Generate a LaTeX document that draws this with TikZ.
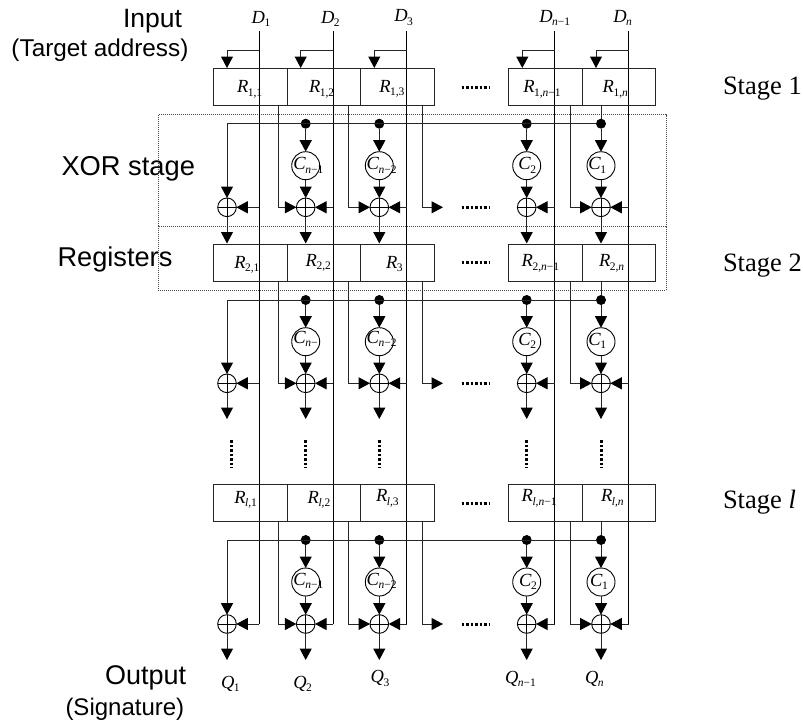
\documentclass[tikz,border=0pt]{standalone}
\usepackage{fontspec}
\setmainfont{Liberation Serif}
\newfontfamily\arialf{Liberation Sans}
\usetikzlibrary{arrows.meta,calc}
\newcommand{\subx}[1]{\raisebox{-3.6pt}{\fontsize{11.5}{11.5}\selectfont #1}}
\newcommand{\lbl}[2]{\fontsize{18.5}{18.5}\selectfont\textit{#1}\kern-0.5pt\subx{#2}}
\newcommand{\itn}{\textit{n}}
\newcommand{\itl}{\textit{l}}
\tikzset{
  wire/.style={line width=1pt,draw=black!85},
  dwire/.style={line width=1pt,draw=black},
  arr/.style={wire,-{Triangle[length=11.5pt,width=12pt,color=black,fill=black]}},
  regbox/.style={draw=black!85,line width=1pt,anchor=north west,minimum width=73.8pt,minimum height=37pt,inner sep=0pt,outer sep=0pt},
  cnode/.style={circle,draw=black,line width=0.9pt,minimum size=28pt,inner sep=0pt,outer sep=0pt},
  xornode/.style={circle,draw=black,line width=0.9pt,minimum size=18.6pt,inner sep=0pt,outer sep=0pt,
     path picture={\draw[line width=0.9pt] (path picture bounding box.north) -- (path picture bounding box.south)
                   (path picture bounding box.west) -- (path picture bounding box.east);}},
  busdot/.style={circle,fill=black,minimum size=10pt,inner sep=0pt,outer sep=0pt},
  txt/.style={anchor=base west,inner sep=0pt,outer sep=0pt},
  sans/.style={txt,font=\arialf},
  hdots/.style={line width=3pt,dash pattern=on 2.6pt off 1.9pt},
  dotbox/.style={line width=0.7pt,draw=black!70,dash pattern=on 1pt off 1pt},
}
\begin{document}
\begin{tikzpicture}[x=1pt,y=-1pt]
\useasboundingbox (0,0) rectangle (803,723);
\fill[white] (0,0) rectangle (803,723);
% dotted frames
\draw[dotbox] (158.3,114.7) rectangle (666,226);
\draw[dotbox] (158.3,226) rectangle (666,290.3);
% data lines
\foreach \c/\dx in {1/259.3,2/333.3,3/406.7,4/554.7,5/628.7}{
  \coordinate (Dtop\c) at (\dx,31);
  \coordinate (Dbot\c) at (\dx,624);
  \draw[dwire] (Dtop\c) -- (Dbot\c);
}
% stages
\foreach \s/\topy/\cy/\xy/\endy/\busy in {1/68.5/165.7/207.3/243.5/123.7,2/244/341.7/383.3/419/300,3/484.7/582/624/660/540}{
  \foreach \c/\lx in {1/213.3,2/287.1,3/360.9,4/508.3,5/582.1}{
    \node[regbox] (R\s-\c) at (\lx,\topy) {};
  }
  \foreach \c/\cx in {1/227,2/305.7,3/379.3,4/526.7,5/601}{
    \node[xornode] (X\s-\c) at (\cx,\xy) {};
    \draw[arr] (X\s-\c.south) -- (\cx,\endy);
    \draw[arr] (Dtop\c |- X\s-\c) -- (X\s-\c.east);
  }
  \foreach \c/\cx in {2/305.7,3/379.3,4/526.7,5/601}{
    \node[busdot] (B\s-\c) at (\cx,\busy) {};
    \node[cnode] (C\s-\c) at (\cx,\cy) {};
    \draw[arr] (B\s-\c) -- (C\s-\c.north);
    \draw[arr] (C\s-\c.south) -- (X\s-\c.north);
  }
  \draw[wire] (X\s-1 |- B\s-2) -- (B\s-5);
  \draw[arr] (X\s-1 |- B\s-2) -- (X\s-1.north);
  \draw[wire] (R\s-5.south -| B\s-5) -- (B\s-5);
  % register taps to the next column
  \coordinate (T\s-1) at (278,\topy+37);
  \coordinate (T\s-2) at (348.7,\topy+37);
  \coordinate (T\s-3) at (422,\topy+37);
  \coordinate (T\s-4) at (570,\topy+37);
  \coordinate (E\s) at (443,\xy);
  \draw[arr] (T\s-1) |- (X\s-2.west);
  \draw[arr] (T\s-2) |- (X\s-3.west);
  \draw[arr] (T\s-3) |- (E\s);
  \draw[arr] (T\s-4) |- (X\s-5.west);
  % horizontal dots
  \draw[hdots] (461.7,\xy) -- (489.5,\xy);
}
% feedback from inputs
\foreach \c/\fx in {1/227,2/300.7,3/374.3,4/522.3,5/596}{
  \coordinate (F\c) at ($(Dtop\c)+(0,19)$);
  \draw[arr] (F\c) -| (\fx,68);
}
% other dots
\draw[hdots] (461.7,87.3) -- (489.5,87.3);
\draw[hdots] (461.7,262.3) -- (489.5,262.3);
\draw[hdots] (461.7,503.3) -- (489.5,503.3);
\foreach \vx in {231.7,305.7,379.3,526.7,601}{
  \draw[hdots] (\vx,440) -- (\vx,467.5);
}
% register labels
\foreach \n/\x/\y/\t in {
 a/237/92.7/{\lbl{R}{1,1}}, b/309/92.7/{\lbl{R}{1,2}}, c/379.3/92/{\lbl{R}{1,3}},
 d/523.3/92.7/{\lbl{R}{1,\itn−1}}, e/602.7/92.7/{\lbl{R}{1,\itn}},
 f/234.3/268.3/{\lbl{R}{2,1}}, g/305.7/266/{\lbl{R}{2,2}}, h/386/268.3/{\lbl{R}{3}},
 i/521.7/266.7/{\lbl{R}{2,\itn−1}}, j/599/266.7/{\lbl{R}{2,\itn}},
 k/234.3/503.3/{\lbl{R}{\itl,1}}, m/307.7/503.3/{\lbl{R}{\itl,2}}, o/376/501.7/{\lbl{R}{\itl,3}},
 p/521.7/501.7/{\lbl{R}{\itl,\itn−1}}, q/601/501.7/{\lbl{R}{\itl,\itn}}}{
  \node[txt] (LR\n) at (\x,\y) {\t};
}
% input labels
\foreach \n/\x/\y/\t in {
 a/251.7/23/{\lbl{D}{1}}, b/321/23/{\lbl{D}{2}}, c/394.3/21.7/{\lbl{D}{3}},
 d/539.3/22/{\lbl{D}{\itn−1}}, e/613.3/22/{\lbl{D}{\itn}}}{
  \node[txt] (LD\n) at (\x,\y) {\t};
}
% coefficient labels
\foreach \n/\x/\y/\t in {
 a/293.3/169.5/{\lbl{C}{\itn−1}}, b/366.7/169.5/{\lbl{C}{\itn−2}}, c/518.3/169.5/{\lbl{C}{2}}, d/588.3/169.5/{\lbl{C}{1}},
 e/293.3/343/{\lbl{C}{\itn−}}, f/366.7/343/{\lbl{C}{\itn−2}}, g/518.3/345/{\lbl{C}{2}}, h/588.3/345/{\lbl{C}{1}},
 i/293.3/585/{\lbl{C}{\itn−1}}, j/366.7/585/{\lbl{C}{\itn−2}}, k/519/586/{\lbl{C}{2}}, m/590/586/{\lbl{C}{1}}}{
  \node[txt] (LC\n) at (\x,\y) {\t};
}
% output labels
\foreach \n/\x/\y/\t in {
 a/221/688.3/{\lbl{Q}{1}}, b/293.3/688.3/{\lbl{Q}{2}}, c/370.7/682.7/{\lbl{Q}{3}},
 d/505/683.3/{\lbl{Q}{\itn−1}}, e/585/683.3/{\lbl{Q}{\itn}}}{
  \node[txt] (LQ\n) at (\x,\y) {\t};
}
% side labels
\node[sans,font=\arialf\fontsize{26.5}{26.5}\selectfont] (tinput) at (123,27.3) {Input};
\node[sans,font=\arialf\fontsize{24.3}{24.3}\selectfont] (ttarget) at (11.5,56.7) {(Target address)};
\node[sans,font=\arialf\fontsize{27.3}{27.3}\selectfont] (txor) at (61.5,175) {XOR stage};
\node[sans,font=\arialf\fontsize{27.2}{27.2}\selectfont] (treg) at (57.5,266.7) {Registers};
\node[sans,font=\arialf\fontsize{27}{27}\selectfont] (tout) at (105,684) {Output};
\node[sans,font=\arialf\fontsize{24}{24}\selectfont] (tsig) at (65.5,715) {(Signature)};
\node[txt,font=\fontsize{26.5}{26.5}\selectfont] (tst1) at (723,94) {Stage 1};
\node[txt,font=\fontsize{26.5}{26.5}\selectfont] (tst2) at (723,271) {Stage 2};
\node[txt,font=\fontsize{26.5}{26.5}\selectfont] (tst3) at (723,508.3) {Stage \textit{l}};
\end{tikzpicture}
\end{document}
